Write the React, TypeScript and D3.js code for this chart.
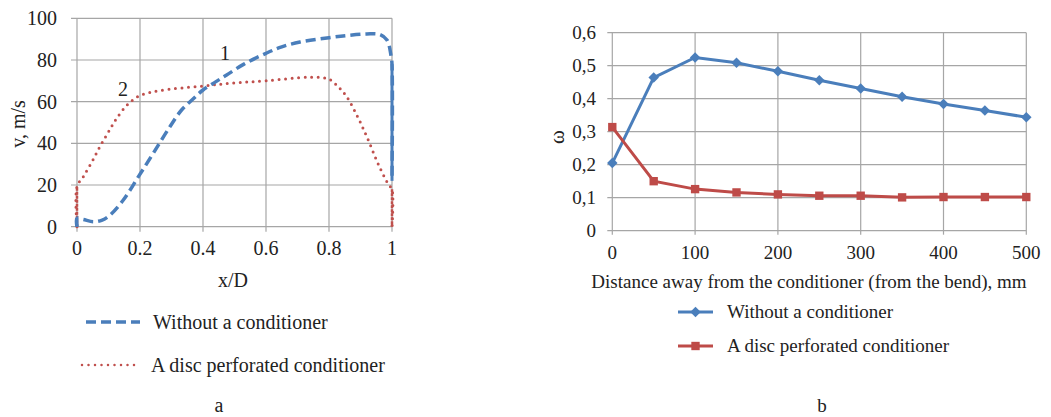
import React from "react";
import * as d3 from "d3";

// ---------- Chart a data ----------
const aBlueX = [0, 0, 0.02, 0.052, 0.08, 0.105, 0.147, 0.195, 0.242, 0.295, 0.332, 0.37, 0.4, 0.44, 0.475, 0.53, 0.6, 0.65, 0.708, 0.8, 0.86, 0.92, 0.96, 0.984, 0.997, 1, 1];
const aBlueY = [0, 4, 3.5, 2.4, 3.2, 5.6, 12.8, 24, 35.2, 48, 56, 61.5, 65.6, 69.5, 72.8, 78, 83.2, 86.3, 88.6, 90.7, 91.8, 92.5, 92.3, 89.6, 82, 78, 22];
const aRedX = [0, 0, 0.02, 0.047, 0.073, 0.1, 0.126, 0.163, 0.2, 0.263, 0.4, 0.5, 0.6, 0.74, 0.8, 0.83, 0.856, 0.89, 0.92, 0.96, 0.99, 1, 1];
const aRedY = [0, 19.2, 24, 31, 38.5, 45.5, 52, 59, 62.9, 65.3, 67.5, 69, 70, 71.7, 70.8, 67, 62.4, 53, 43.2, 28.8, 20, 18, 0];
const aXTicks = [0, 0.2, 0.4, 0.6, 0.8, 1];
const aXTickLabels = ["0", "0.2", "0.4", "0.6", "0.8", "1"];
const aYTicks = [0, 20, 40, 60, 80, 100];

// ---------- Chart b data ----------
const bDist = [0, 50, 100, 150, 200, 250, 300, 350, 400, 450, 500];
const bWithout = [0.205, 0.464, 0.525, 0.509, 0.483, 0.456, 0.431, 0.406, 0.384, 0.364, 0.344];
const bDisc = [0.314, 0.15, 0.126, 0.116, 0.11, 0.106, 0.106, 0.101, 0.102, 0.102, 0.102];
const bXTicks = [0, 100, 200, 300, 400, 500];
const bYTicks = [0, 0.1, 0.2, 0.3, 0.4, 0.5, 0.6];
const bYTickLabels = ["0", "0,1", "0,2", "0,3", "0,4", "0,5", "0,6"];

const seriesNames = ["Without a conditioner", "A disc perforated conditioner"];

const BLUE = "#4a7ebb";
const RED = "#c0504d";
const RED_B = "#be4b48";
const GRID = "#a6a6a6";
const FONT = "'Liberation Serif', 'Times New Roman', serif";

type P = [number, number];

function splitWalls(pts: P[]) {
  const walls: P[][] = [];
  for (let i = 1; i < pts.length; i++) {
    if (pts[i][0] === pts[i - 1][0]) walls.push([pts[i - 1], pts[i]]);
  }
  return walls;
}

export default function App() {
  const xa = d3.scaleLinear().domain([0, 1]).range([77, 392]);
  const ya = d3.scaleLinear().domain([0, 100]).range([226.7, 18.3]);
  const xb = d3.scaleLinear().domain([0, 500]).range([612.3, 1026.3]);
  const yb = d3.scaleLinear().domain([0, 0.6]).range([230.7, 32.7]);

  const blueA: P[] = aBlueX.map((x, i) => [x, aBlueY[i]]);
  const redA: P[] = aRedX.map((x, i) => [x, aRedY[i]]);
  const lineA = d3
    .line<P>()
    .x((d) => xa(d[0]))
    .y((d) => ya(d[1]))
    .curve(d3.curveCatmullRom.alpha(0.5));
  const lineAL = d3
    .line<P>()
    .x((d) => xa(d[0]))
    .y((d) => ya(d[1]));

  const blueB: P[] = bDist.map((x, i) => [x, bWithout[i]]);
  const redB: P[] = bDist.map((x, i) => [x, bDisc[i]]);
  const lineB = d3
    .line<P>()
    .x((d) => xb(d[0]))
    .y((d) => yb(d[1]));

  const diamond = d3.symbol(d3.symbolSquare, 55)() as string;
  const square = d3.symbol(d3.symbolSquare, 70)() as string;

  const tA: React.CSSProperties = { fontFamily: FONT, fontSize: 20, fill: "#222" };
  const tB: React.CSSProperties = { fontFamily: FONT, fontSize: 19, fill: "#222" };

  return (
    <svg width={1051} height={417} style={{ position: "absolute", left: 0, top: 0, background: "#fff" }}>
      <rect x={0} y={0} width={1051} height={417} fill="#fff" />
      {/* ---------------- Chart a ---------------- */}
      <g>
        {aYTicks.map((t) => (
          <line key={"ayg" + t} x1={xa(0) - 6} x2={xa(1)} y1={ya(t)} y2={ya(t)} stroke={GRID} strokeWidth={1.2} />
        ))}
        {aXTicks.map((t) => (
          <line key={"axg" + t} x1={xa(t)} x2={xa(t)} y1={ya(100)} y2={ya(0) + 5} stroke={GRID} strokeWidth={1.2} />
        ))}
        {aYTicks.map((t) => (
          <text key={"ayl" + t} x={57} y={ya(t)} dy="0.35em" textAnchor="end" style={tA}>
            {t}
          </text>
        ))}
        {aXTicks.map((t, i) => (
          <text key={"axl" + t} x={xa(t)} y={255} textAnchor="middle" style={tA}>
            {aXTickLabels[i]}
          </text>
        ))}
        <text x={233} y={287} textAnchor="middle" style={tA}>
          x/D
        </text>
        <text transform="translate(25,124) rotate(-90)" textAnchor="middle" style={tA}>
          v, m/s
        </text>
        {/* series */}
        <path d={lineA(redA) as string} fill="none" stroke={RED} strokeWidth={3} strokeDasharray="0 6.5" strokeLinecap="round" />
        {splitWalls(redA).map((w, i) => (
          <path key={"rw" + i} d={lineAL(w) as string} fill="none" stroke={RED} strokeWidth={2.5} strokeDasharray="3 1" />
        ))}
        <path d={lineA(blueA) as string} fill="none" stroke={BLUE} strokeWidth={3.5} strokeDasharray="10 5" />
        {splitWalls(blueA).map((w, i) => (
          <path key={"bw" + i} d={lineAL(w) as string} fill="none" stroke={BLUE} strokeWidth={3} />
        ))}
        <text x={225} y={53} dy="0.35em" textAnchor="middle" style={tA}>
          1
        </text>
        <text x={123} y={89} dy="0.35em" textAnchor="middle" style={tA}>
          2
        </text>
        {/* legend */}
        <line x1={86} x2={140} y1={322} y2={322} stroke={BLUE} strokeWidth={3.5} strokeDasharray="10 5" />
        <text x={153} y={329} style={tA}>
          {seriesNames[0]}
        </text>
        <line x1={82} x2={140} y1={365} y2={365} stroke={RED} strokeWidth={2.5} strokeDasharray="0 6.5" strokeLinecap="round" />
        <text x={151} y={372} style={tA}>
          {seriesNames[1]}
        </text>
        <text x={219} y={412} textAnchor="middle" style={tA}>
          a
        </text>
      </g>

      {/* ---------------- Chart b ---------------- */}
      <g>
        {bYTicks.map((t) => (
          <line key={"byg" + t} x1={xb(0) - 5} x2={xb(500)} y1={yb(t)} y2={yb(t)} stroke={GRID} strokeWidth={1.2} />
        ))}
        {bXTicks.map((t) => (
          <line key={"bxg" + t} x1={xb(t)} x2={xb(t)} y1={yb(0.6)} y2={yb(0) + 4} stroke={GRID} strokeWidth={1.2} />
        ))}
        {bYTicks.map((t, i) => (
          <text key={"byl" + t} x={596} y={yb(t)} dy="0.35em" textAnchor="end" style={tB}>
            {bYTickLabels[i]}
          </text>
        ))}
        {bXTicks.map((t) => (
          <text key={"bxl" + t} x={xb(t)} y={259} textAnchor="middle" style={tB}>
            {t}
          </text>
        ))}
        <text x={809} y={288} textAnchor="middle" style={tB}>
          Distance away from the conditioner (from the bend), mm
        </text>
        <text transform="translate(557,137) rotate(-90)" dy="0.35em" textAnchor="middle" style={{ ...tB, fontSize: 21 }}>
          ω
        </text>
        <path d={lineB(blueB) as string} fill="none" stroke={BLUE} strokeWidth={3} />
        <path d={lineB(redB) as string} fill="none" stroke={RED_B} strokeWidth={3} />
        {blueB.map((p, i) => (
          <path key={"bd" + i} d={diamond} transform={`translate(${xb(p[0])},${yb(p[1])}) rotate(45)`} fill={BLUE} />
        ))}
        {redB.map((p, i) => (
          <path key={"rs" + i} d={square} transform={`translate(${xb(p[0])},${yb(p[1])})`} fill={RED_B} />
        ))}
        {/* legend */}
        <line x1={678} x2={713} y1={312} y2={312} stroke={BLUE} strokeWidth={3} />
        <path d={diamond} transform="translate(695.5,312) rotate(45)" fill={BLUE} />
        <text x={727} y={318} style={tB}>
          {seriesNames[0]}
        </text>
        <line x1={678} x2={713} y1={346} y2={346} stroke={RED_B} strokeWidth={3} />
        <path d={square} transform="translate(695.5,346)" fill={RED_B} />
        <text x={727} y={352} style={tB}>
          {seriesNames[1]}
        </text>
        <text x={822} y={412} textAnchor="middle" style={tB}>
          b
        </text>
      </g>
    </svg>
  );
}
